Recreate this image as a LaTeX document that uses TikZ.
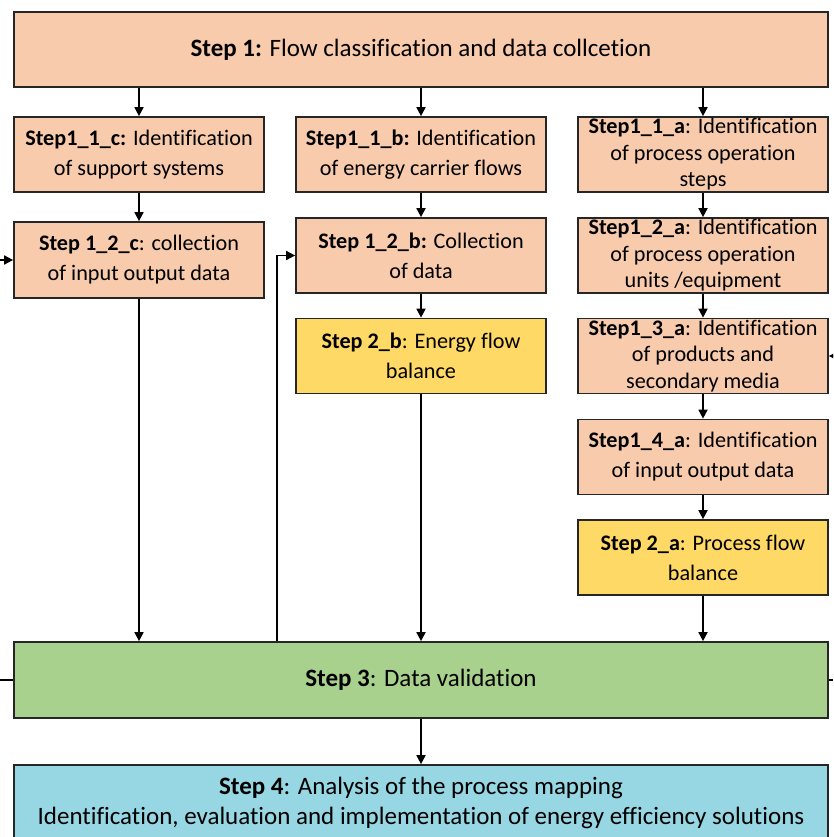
\documentclass[tikz,border=0pt]{standalone}
\usepackage{fontspec}
\setmainfont{Carlito}[Ligatures=CommonOff]
\usetikzlibrary{arrows.meta}
\definecolor{peach}{HTML}{F8CBAD}
\definecolor{yel}{HTML}{FFD966}
\definecolor{grn}{HTML}{A9D18E}
\definecolor{cyn}{HTML}{97D7E3}
\tikzset{
  box/.style={draw=black!85, line width=1.7pt, rectangle, align=center, inner sep=0pt,
    minimum width=250pt, minimum height=75pt, font=\fontsize{22.2}{30}\selectfont},
  wide/.style={box, minimum width=814pt, font=\fontsize{25}{30}\selectfont},
  tight/.style={font=\fontsize{22.2}{26.5}\selectfont},
  arr/.style={line width=1.7pt, -{Triangle[length=9pt,width=9pt]}},
  ln/.style={line width=1.7pt},
}
\begin{document}
\begin{tikzpicture}[x=1pt,y=-1pt]
\useasboundingbox (0,0) rectangle (833,837);
\clip (0,0) rectangle (833,837);
\node[wide, fill=peach] (s1) at (421,49.5) {\textbf{Step 1:} Flow classification and data collcetion};
\node[box, fill=peach] (c1) at (139,154.5) {\textbf{Step1\_1\_c:} Identification\\of support systems};
\node[box, fill=peach] (b1) at (421,154.5) {\textbf{Step1\_1\_b:} Identification\\of energy carrier flows};
\node[box, fill=peach, tight] (a1) at (703,154.5) {\textbf{Step1\_1\_a}: Identification\\of process operation\\steps};
\node[box, fill=peach, minimum height=76pt] (c2) at (139,260) {\textbf{Step 1\_2\_c}: collection\\of input output data};
\node[box, fill=peach] (b2) at (421,255.5) {\textbf{Step 1\_2\_b:} Collection\\of data};
\node[box, fill=yel] (b3) at (421,356) {\textbf{Step 2\_b}: Energy flow\\balance};
\node[box, fill=peach, tight] (a2) at (703,255.5) {\textbf{Step1\_2\_a}: Identification\\of process operation\\units /equipment};
\node[box, fill=peach, tight] (a3) at (703,356) {\textbf{Step1\_3\_a}: Identification\\of products and\\secondary media};
\node[box, fill=peach] (a4) at (703,457) {\textbf{Step1\_4\_a}: Identification\\of input output data};
\node[box, fill=yel] (a5) at (703,557.5) {\textbf{Step 2\_a}: Process flow\\balance};
\node[wide, fill=grn, minimum height=76pt] (s3) at (421,680) {\textbf{Step 3}: Data validation};
\node[wide, fill=cyn] (s4) at (421,802.5) {\textbf{Step 4}: Analysis of the process mapping\\Identification, evaluation and implementation of energy efficiency solutions};
% helper coordinates
\coordinate (fbx) at (277,0);
\coordinate (L1) at (0,260);
\coordinate (R1) at (833,356);
% arrows
\draw[arr] (s1.south -| c1.north) -- (c1.north);
\draw[arr] (s1.south -| b1.north) -- (b1.north);
\draw[arr] (s1.south -| a1.north) -- (a1.north);
\draw[arr] (c1) -- (c2);
\draw[arr] (c2.south) -- (s3.north -| c2.south);
\draw[arr] (b1) -- (b2);
\draw[arr] (b2) -- (b3);
\draw[arr] (b3.south) -- (s3.north -| b3.south);
\draw[arr] (a1) -- (a2);
\draw[arr] (a2) -- (a3);
\draw[arr] (a3) -- (a4);
\draw[arr] (a4) -- (a5);
\draw[arr] (a5.south) -- (s3.north -| a5.south);
\draw[arr] (s3.south -| s4.north) -- (s4.north);
\draw[arr] (s3.north -| fbx) |- (b2.west);
\draw[arr] (L1) -- (c2.west);
\draw[arr] (R1) -- (a3.east);
\draw[ln] (s3.west) -- (s3.west -| L1);
\draw[ln] (s3.east) -- (s3.east -| R1);
\end{tikzpicture}
\end{document}
